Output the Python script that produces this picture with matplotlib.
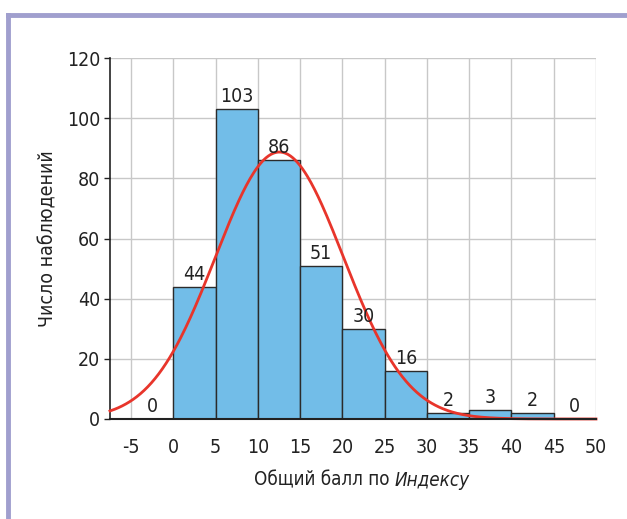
import matplotlib.pyplot as plt
import numpy as np
from matplotlib.lines import Line2D

# histogram of total index scores
bin_edges = [-5, 0, 5, 10, 15, 20, 25, 30, 35, 40, 45, 50]
counts = [0, 44, 103, 86, 51, 30, 16, 2, 3, 2, 0]
x_ticks = [-5, 0, 5, 10, 15, 20, 25, 30, 35, 40, 45, 50]
y_ticks = [0, 20, 40, 60, 80, 100, 120]

plt.rcParams['font.family'] = ['DejaVu Sans']
plt.rcParams['font.stretch'] = 'condensed'
plt.rcParams['axes.unicode_minus'] = False

fig = plt.figure(figsize=(6.27, 5.19), dpi=100)
ax = fig.add_axes([0.1754, 0.1927, 0.7752, 0.6953])

edges = np.array(bin_edges, dtype=float)
cnt = np.array(counts, dtype=float)
widths = np.diff(edges)
lefts = edges[:-1]

ax.bar(lefts, cnt, width=widths, align='edge', color='#72bde8',
       edgecolor='#2b2b2b', linewidth=1.0, zorder=2)

for l, w, c in zip(lefts, widths, counts):
    ax.text(l + w / 2, c + 1.0, str(c), ha='center', va='bottom',
            fontsize=14, color='#222222', zorder=4)

# normal curve fitted to the binned data
mids = lefts + widths / 2
n = cnt.sum()
mu = (mids * cnt).sum() / n
sd = np.sqrt(((mids - mu) ** 2 * cnt).sum() / n)
xs = np.linspace(-7.5, 50, 400)
ys = n * 5 / (sd * np.sqrt(2 * np.pi)) * np.exp(-0.5 * ((xs - mu) / sd) ** 2)
ax.plot(xs, ys, color='#e8352b', linewidth=2.0, zorder=3, clip_on=False)

ax.set_xlim(-7.5, 50)
ax.set_ylim(0, 120)
ax.set_xticks(x_ticks)
ax.set_yticks(y_ticks)
ax.grid(True, color='#c8c8c8', linewidth=1.0, zorder=0)
ax.set_axisbelow(True)
for s in ['top', 'right']:
    ax.spines[s].set_visible(False)
ax.spines['left'].set_color('#222222')
ax.spines['bottom'].set_color('#222222')
ax.spines['left'].set_linewidth(1.2)
ax.spines['bottom'].set_linewidth(1.5)
ax.spines['bottom'].set_zorder(5)
ax.tick_params(axis='x', length=0, pad=14, labelsize=14, colors='#222222')
ax.tick_params(axis='y', length=4, width=1, pad=3, labelsize=14, colors='#222222')

ax.set_ylabel('Число наблюдений', fontsize=14, color='#222222', labelpad=7)

# x label with italic last word, centred as one line
t1 = fig.text(0.5, 1 - 480 / 519, 'Общий балл по ', ha='left', va='center',
              fontsize=13.5, color='#222222')
t2 = ax.annotate('Индексу', xy=(1, 0), xycoords=t1, ha='left', va='bottom',
                 fontsize=13.5, style='italic', color='#222222')
fig.canvas.draw()
r = fig.canvas.get_renderer()
w_total = t1.get_window_extent(r).width + t2.get_window_extent(r).width
t1.set_x((362 - w_total / 2) / 627)

# frame lines along top and left edges
border = '#a09fce'
fig.add_artist(Line2D([8 / 627, 1], [1 - 15 / 519, 1 - 15 / 519],
                      transform=fig.transFigure, color=border, linewidth=3.5))
fig.add_artist(Line2D([8 / 627, 8 / 627], [0, 1 - 15 / 519],
                      transform=fig.transFigure, color=border, linewidth=3.5))

plt.savefig('out.png', dpi=100)
plt.close()
